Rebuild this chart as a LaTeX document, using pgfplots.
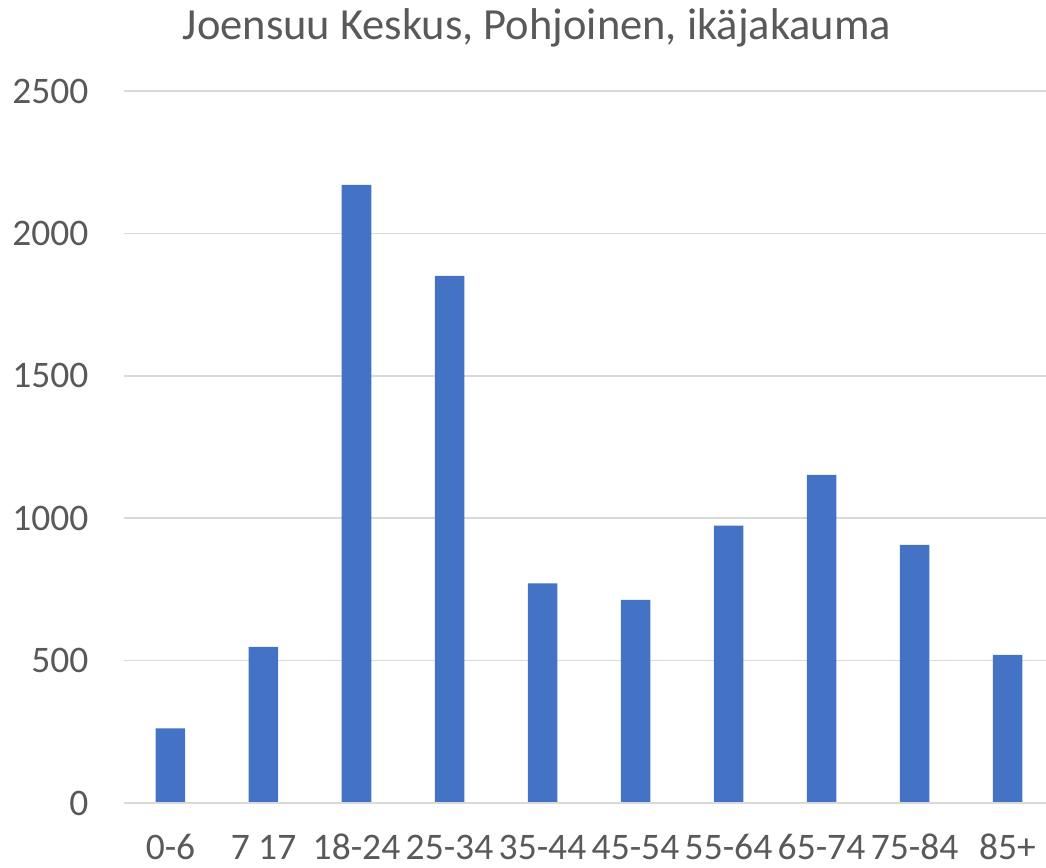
\documentclass[border=0pt]{standalone}
\usepackage{pgfplots}
\pgfplotsset{compat=1.18}
\usepackage{fontspec}
\setmainfont{Carlito}
\definecolor{barblue}{HTML}{4472C4}
\definecolor{txtgray}{HTML}{595959}
\definecolor{gridgray}{HTML}{D9D9D9}
\begin{document}
\begin{tikzpicture}
\path[use as bounding box] (-124pt,-64pt) rectangle (922pt,803pt);
\begin{axis}[
  at={(0pt,0pt)}, anchor=south west,
  scale only axis,
  width=922pt, height=712pt,
  xmin=-0.5, xmax=9.414,
  ymin=0, ymax=2500,
  ytick={0,500,1000,1500,2000,2500},
  xtick={0,...,9},
  xticklabels={0-6,7 17,18-24,25-34,35-44,45-54,55-64,65-74,75-84,85+},
  axis line style={draw=none},
  axis x line*=bottom,
  major tick length=0pt,
  ymajorgrids,
  grid style={gridgray, line width=1.5pt},
  ticklabel style={font=\fontsize{37.5}{37.5}\selectfont, text=txtgray},
  /pgf/number format/assume math mode=true,
  /pgf/number format/1000 sep={},
  yticklabel style={xshift=-32pt},
  xticklabel style={anchor=base, yshift=-56pt, text depth=0pt, inner sep=1pt},
  clip=false,
]
\addplot[ybar, bar width=29.5pt, fill=barblue, draw=none] coordinates {
(0,262) (1,548) (2,2170) (3,1851) (4,771) (5,713) (6,974) (7,1152) (8,906) (9,520)
};
\draw[gridgray, line width=1.5pt] (axis cs:-0.5,0) -- (axis cs:9.414,0);
\end{axis}
\node[anchor=base, text=txtgray, font=\fontsize{44.5}{44.5}\selectfont] at (413pt,763pt) {Joensuu Keskus, Pohjoinen, ikäjakauma};
\end{tikzpicture}
\end{document}
